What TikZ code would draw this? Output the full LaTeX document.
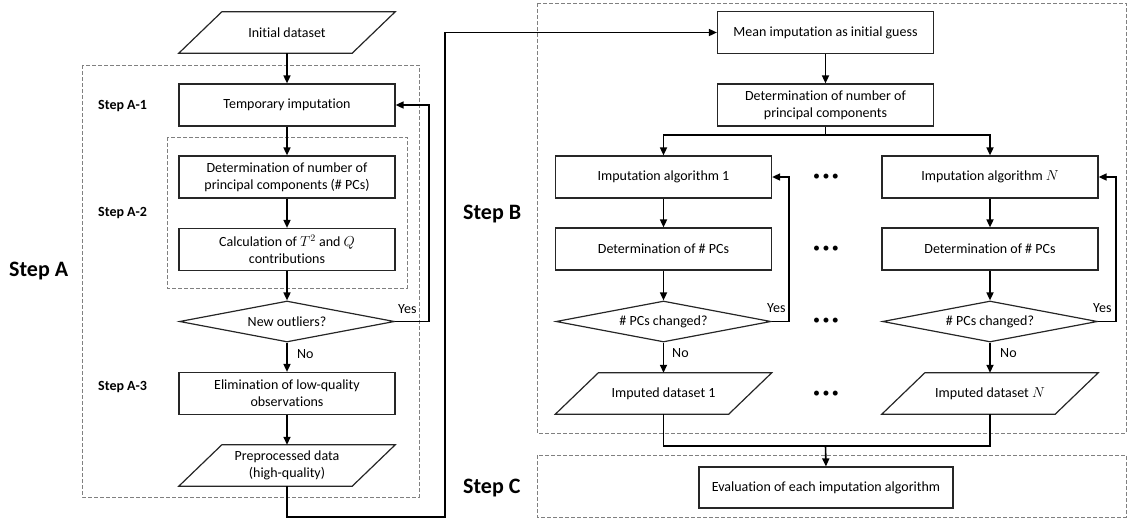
\documentclass[tikz,border=0pt]{standalone}
\usepackage{fontspec}
\setmainfont{Carlito}[Ligatures=NoCommon]
\usetikzlibrary{arrows.meta,shapes.geometric}
\newcommand\drawparashape[1]{%
  \draw[paraline] (#1.south west) -- ([xshift=43pt]#1.north west) -- (#1.north east)
    -- ([xshift=-43pt]#1.south east) -- cycle;}
\begin{document}
\begin{tikzpicture}[x=1pt,y=-1pt,font=\fontsize{14}{17}\selectfont,
  box/.style={draw=black!85,line width=1.2pt,minimum width=216pt,minimum height=42pt,align=center,inner sep=2pt},
  para/.style={minimum width=216pt,minimum height=41pt,align=center,inner sep=2pt},
  paraline/.style={draw=black!85,line width=1.2pt,line join=miter},
  dec/.style={diamond,aspect=5.2,inner sep=0pt,minimum width=215pt,minimum height=41pt,draw=black!85,line width=1.2pt},
  flow/.style={line width=1.6pt,-{Triangle[length=8pt,width=7pt]}},
  wire/.style={line width=1.6pt},
  region/.style={draw=black!50,dash pattern=on 4pt off 2pt,line width=0.8pt},
  steplbl/.style={font=\fontsize{14}{17}\selectfont\bfseries,anchor=west,inner sep=0pt},
  bigstep/.style={font=\fontsize{22}{26}\selectfont\bfseries,anchor=west,inner sep=0pt},
  lbl/.style={anchor=west,inner sep=0pt},
  dots/.style={inner sep=0pt}]
\useasboundingbox (0,0) rectangle (1127,520);

% dashed regions
\draw[region] (82,65) rectangle (419,497);
\draw[region] (167,137) rectangle (407,288);
\draw[region] (537,3) rectangle (1126,433);
\draw[region] (537,455) rectangle (1126,517);

% step labels
\node[bigstep] (sA) at (9,271) {Step A};
\node[steplbl] (sA1) at (98,106) {Step A-1};
\node[steplbl] (sA2) at (98,213) {Step A-2};
\node[steplbl] (sA3) at (98,387) {Step A-3};
\node[bigstep] (sB) at (463,214) {Step B};
\node[bigstep] (sC) at (463,488) {Step C};

% step A nodes
\node[para] (init) at (287,32.5) {Initial dataset};
\node[box] (tmp) at (287,105) {Temporary imputation};
\node[box] (det) at (287,177) {Determination of number of\\principal components (\# PCs)};
\node[box] (calc) at (287,249.5) {Calculation of $T^2$ and $Q$\\contributions};
\node[dec] (dia) at (287,321.5) {New outliers?};
\node[box] (elim) at (287,393.5) {Elimination of low-quality\\observations};
\node[para] (prep) at (287,465.5) {Preprocessed data\\(high-quality)};

% step B nodes
\node[box] (mean) at (825.5,32.5) {Mean imputation as initial guess};
\node[box] (detB) at (825.5,105) {Determination of number of\\principal components};
\node[box] (alg1) at (663.5,177) {Imputation algorithm 1};
\node[box] (algN) at (990,177) {Imputation algorithm $N$};
\node[box] (dpc1) at (663.5,249) {Determination of \# PCs};
\node[box] (dpcN) at (990,249) {Determination of \# PCs};
\node[dec] (dia1) at (663.5,321.5) {\# PCs changed?};
\node[dec] (diaN) at (990,321.5) {\# PCs changed?};
\node[para] (imp1) at (663.5,393.5) {Imputed dataset 1};
\node[para] (impN) at (990,393.5) {Imputed dataset $N$};
\node[box,minimum width=254pt,minimum height=41pt] (eval) at (826,487.5) {Evaluation of each imputation algorithm};

\drawparashape{init}
\drawparashape{prep}
\drawparashape{imp1}
\drawparashape{impN}

% dots
\node[dots] (d1) at (826,177) {•\,•\,•};
\node[dots] (d2) at (826,249) {•\,•\,•};
\node[dots] (d3) at (826,321.5) {•\,•\,•};
\node[dots] (d4) at (826,394) {•\,•\,•};

% yes / no labels
\node[lbl] (yA) at (398,309) {Yes};
\node[lbl] (nA) at (297,354) {No};
\node[lbl] (y1) at (767,308) {Yes};
\node[lbl] (n1) at (672,353) {No};
\node[lbl] (yN) at (1093,308) {Yes};
\node[lbl] (nN) at (1000,353) {No};

% coordinates
\coordinate (fbA) at (429,321.5);
\coordinate (c1) at (287,517);
\coordinate (c2) at (445,517);
\coordinate (split) at (825.5,135);
\coordinate (fb1) at (789,321.5);
\coordinate (fbN) at (1116,321.5);
\coordinate (mrg) at (825.5,446);

% step A connectors
\draw[flow] (init) -- (tmp);
\draw[flow] (tmp) -- (det);
\draw[flow] (det) -- (calc);
\draw[flow] (calc) -- (dia);
\draw[flow] (dia) -- (elim);
\draw[flow] (elim) -- (prep);
\draw[flow] (dia.east) -- (fbA) |- (tmp.east);

% A to B
\draw[flow] (prep.south) -- (c1) -- (c2) |- (mean.west);

% step B connectors
\draw[flow] (mean) -- (detB);
\draw[wire] (detB.south) -- (split);
\draw[flow] (split) -| (alg1.north);
\draw[flow] (split) -| (algN.north);
\draw[flow] (alg1) -- (dpc1);
\draw[flow] (dpc1) -- (dia1);
\draw[flow] (dia1) -- (imp1);
\draw[flow] (dia1.east) -- (fb1) |- (alg1.east);
\draw[flow] (algN) -- (dpcN);
\draw[flow] (dpcN) -- (diaN);
\draw[flow] (diaN) -- (impN);
\draw[flow] (diaN.east) -- (fbN) |- (algN.east);

% merge to step C
\draw[wire] (imp1.south) |- (mrg);
\draw[wire] (impN.south) |- (mrg);
\draw[flow] (mrg) -- (eval.north);
\end{tikzpicture}
\end{document}
